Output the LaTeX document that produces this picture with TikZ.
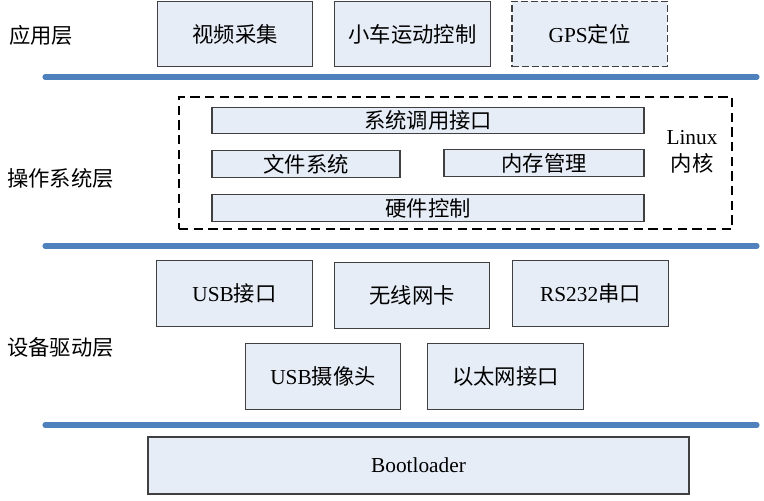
\documentclass[tikz,border=0pt]{standalone}
\usepackage{fontspec}
\setmainfont{Liberation Serif}
\newfontfamily\cjk{Noto Sans CJK SC}
\definecolor{boxfill}{RGB}{231,237,247}
\definecolor{boxline}{RGB}{64,64,64}
\definecolor{layerline}{RGB}{79,129,189}

\begin{document}
\begin{tikzpicture}[x=0.75pt, y=-0.75pt, font=\fontsize{16}{19}\selectfont,
  box/.style={draw=boxline, fill=boxfill, line width=0.8pt, inner sep=0pt},
  bigbox/.style={box, minimum width=116.5pt, minimum height=49pt},
  thinbox/.style={box, minimum height=19.75pt},
  layer/.style={draw=layerline, line width=3.8pt, line cap=round},
  lname/.style={anchor=west, inner sep=0pt}]
\useasboundingbox (0,0) rectangle (764,500);

\node[lname] (app) at (9,35) {\cjk 应用层};
\node[lname] (os) at (7,178) {\cjk 操作系统层};
\node[lname] (drv) at (7,347) {\cjk 设备驱动层};

\node[bigbox] (video) at (235,34) {\cjk 视频采集};
\node[bigbox] (car) at (412.5,34) {\cjk 小车运动控制};
\node[bigbox, dash pattern=on 5pt off 2.5pt, line width=1pt] (gps) at (589.5,34) {GPS{\cjk 定位}};

\coordinate (l1a) at (45,77);
\coordinate (l1b) at (757,77);
\path[layer] (l1a) -- (l1b);

\node[draw, line width=1.1pt, dash pattern=on 7pt off 4pt, minimum width=414.75pt, minimum height=99pt, inner sep=0pt] (kernel) at (455.5,163) {};
\node[thinbox, minimum width=324pt] (syscall) at (428,120.5) {\cjk 系统调用接口};
\node[thinbox, minimum width=141pt] (fs) at (306,164) {\cjk 文件系统};
\node[thinbox, minimum width=150pt] (mem) at (544,163) {\cjk 内存管理};
\node[thinbox, minimum width=324pt] (hw) at (428,208) {\cjk 硬件控制};
\node[inner sep=0pt] (linux) at (692,138) {Linux};
\node[inner sep=0pt] (core) at (692,163) {\cjk 内核};

\coordinate (l2a) at (45,246);
\coordinate (l2b) at (757,246);
\path[layer] (l2a) -- (l2b);

\node[bigbox] (usb) at (234.5,293.5) {USB{\cjk 接口}};
\node[bigbox] (wifi) at (412,295.5) {\cjk 无线网卡};
\node[bigbox] (serial) at (590.5,293.5) {RS232{\cjk 串口}};
\node[bigbox] (cam) at (323,376.5) {USB{\cjk 摄像头}};
\node[bigbox] (eth) at (505.5,376.5) {\cjk 以太网接口};

\coordinate (l3a) at (45,425);
\coordinate (l3b) at (757,425);
\path[layer] (l3a) -- (l3b);

\node[box, minimum width=405.75pt, minimum height=42.75pt] (boot) at (418.5,465.5) {Bootloader};
\end{tikzpicture}
\end{document}
